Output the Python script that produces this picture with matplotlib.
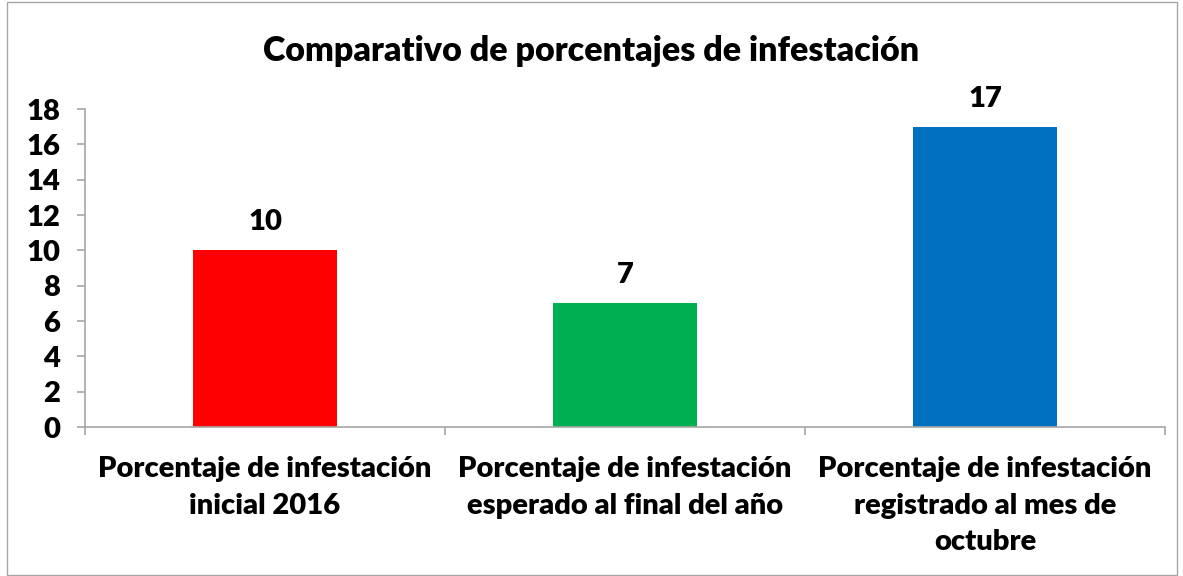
import matplotlib.pyplot as plt
from matplotlib.patches import Rectangle

categories = ['Porcentaje de infestación\ninicial 2016',
              'Porcentaje de infestación\nesperado al final del año',
              'Porcentaje de infestación\nregistrado al mes de\noctubre']
values = [10, 7, 17]
colors = ['#FF0000', '#00B050', '#0070C0']
yticks = [0, 2, 4, 6, 8, 10, 12, 14, 16, 18]

plt.rcParams['font.family'] = ['Lato', 'DejaVu Sans']
plt.rcParams['font.weight'] = 'bold'

fig = plt.figure(figsize=(11.83, 5.76), dpi=100)
ax = fig.add_axes([85/1183, 1-427/576, 1080/1183, 318/576])

x = list(range(len(values)))
bars = ax.bar(x, values, width=0.4, color=colors)
for xi, v in zip(x, values):
    ax.text(xi, v + 0.85, str(v), ha='center', va='bottom', fontsize=21, fontweight='heavy')

ax.set_xlim(-0.5, 2.5)
ax.set_ylim(0, 18)
ax.set_yticks(yticks)
ax.set_yticklabels([str(t) for t in yticks], fontsize=21, fontweight='heavy')
ax.set_xticks(x)
ax.set_xticklabels(categories, fontsize=21, fontweight='heavy', linespacing=1.5, va='top')
ax.tick_params(axis='x', length=0, pad=21)
ax.set_xticks([-0.5, 0.5, 1.5, 2.5], minor=True)
ax.tick_params(axis='x', which='minor', length=6, color='#A6A6A6', width=1.2)
ax.tick_params(axis='y', length=6, color='#A6A6A6', width=1.2, pad=12)

for s in ['top', 'right']:
    ax.spines[s].set_visible(False)
for s in ['left', 'bottom']:
    ax.spines[s].set_color('#A6A6A6')
    ax.spines[s].set_linewidth(1.2)

fig.text(0.5, 1-51/576, 'Comparativo de porcentajes de infestación', ha='center', va='center',
         fontsize=24.5, fontweight='heavy')

# marco exterior
fig.patches.append(Rectangle((7/1183, 0.002), 1170/1183, 0.994, transform=fig.transFigure,
                             fill=False, edgecolor='#A6A6A6', linewidth=1))

fig.savefig('out.png', dpi=100)
